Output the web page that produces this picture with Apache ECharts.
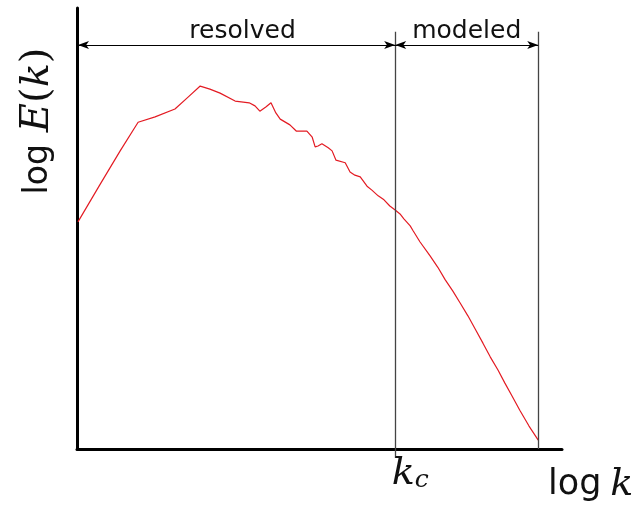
<!DOCTYPE html>
<html>
<head>
<meta charset="utf-8">
<title>Energy spectrum: resolved and modeled scales</title>
<script src="https://cdn.jsdelivr.net/npm/echarts@6/dist/echarts.min.js"></script>
<style>
  html, body { margin: 0; padding: 0; background: #ffffff; }
  #chart { width: 643px; height: 505px; }
</style>
</head>
<body>
<div id="chart"></div>
<script>
// Spectrum samples: log k (x) and log E(k) (y), arbitrary units
const logK = [
  0.02, 0.47, 0.89, 1.26, 1.61, 2.02, 2.29, 2.54, 2.74, 2.95,
  3.26, 3.55, 3.67, 3.77, 3.90, 4.00, 4.10, 4.19, 4.39, 4.52,
  4.74, 4.85, 4.91, 4.97, 5.05, 5.18, 5.26, 5.34, 5.53, 5.63,
  5.73, 5.84, 5.98, 6.08, 6.21, 6.33, 6.45, 6.56, 6.66, 6.74,
  6.87, 6.93, 7.07, 7.28, 7.44, 7.59, 7.75, 7.90, 8.06, 8.21,
  8.37, 8.52, 8.68, 8.82, 8.97, 9.13, 9.32, 9.51
];
const logE = [
  5.15, 5.99, 6.76, 7.41, 7.53, 7.71, 7.98, 8.23, 8.16, 8.07,
  7.89, 7.85, 7.78, 7.66, 7.76, 7.85, 7.62, 7.48, 7.35, 7.21,
  7.21, 7.07, 6.85, 6.87, 6.92, 6.83, 6.76, 6.55, 6.49, 6.28,
  6.21, 6.17, 5.96, 5.87, 5.74, 5.65, 5.51, 5.42, 5.33, 5.22,
  5.06, 4.95, 4.70, 4.38, 4.12, 3.84, 3.58, 3.31, 3.02, 2.72,
  2.40, 2.09, 1.79, 1.50, 1.20, 0.88, 0.52, 0.20
];

// Cutoff wavenumber and end of the modeled range (log k)
const kCut = 6.56;
const kMax = 9.51;
const kStart = 0.02;

// Heights of the range arrows and divider lines (log E units)
const arrowLevel = 9.16;
const dividerTop = 9.46;

// Range labels
const rangeNames = ['resolved', 'modeled'];

const points = logK.map((k, i) => [k, logE[i]]);

const chart = echarts.init(document.getElementById('chart'), null, { renderer: 'canvas' });

const arrowLabel = (text, padLeft) => ({
  show: true,
  position: 'middle',
  formatter: text,
  distance: 1,
  padding: [0, 0, 0, padLeft],
  color: '#111111',
  fontFamily: 'DejaVu Sans',
  fontSize: 25
});

const mathItalic = { fontFamily: 'DejaVu Serif', fontStyle: 'italic', fill: '#111111' };
const mathUpright = { fontFamily: 'DejaVu Serif', fill: '#111111' };

chart.setOption({
  animation: false,
  backgroundColor: '#ffffff',
  grid: { left: 77, top: 8, width: 485, height: 441, containLabel: false },
  xAxis: {
    type: 'value',
    min: 0,
    max: 10,
    splitLine: { show: false },
    axisLine: { show: true, onZero: false, lineStyle: { color: '#000000', width: 3 } },
    axisTick: {
      show: true,
      customValues: [kCut],
      length: 9,
      lineStyle: { color: '#444444', width: 1.3 }
    },
    axisLabel: {
      show: true,
      customValues: [kCut],
      margin: 6,
      align: 'center',
      padding: [0, 0, 0, 30],
      formatter: () => '{k|k}{c|c}',
      rich: {
        k: { fontFamily: 'DejaVu Serif', fontStyle: 'italic', fontSize: 38, color: '#111111', verticalAlign: 'bottom' },
        c: { fontFamily: 'DejaVu Serif', fontStyle: 'italic', fontSize: 25, color: '#111111', verticalAlign: 'bottom', padding: [12, 0, 0, 0] }
      }
    }
  },
  yAxis: {
    type: 'value',
    min: 0,
    max: 10,
    splitLine: { show: false },
    axisLine: { show: true, onZero: false, lineStyle: { color: '#000000', width: 3 } },
    axisTick: { show: false },
    axisLabel: { show: false }
  },
  graphic: [
    {
      type: 'text',
      x: 38,
      y: 121,
      rotation: Math.PI / 2,
      style: {
        text: '{a|log}{e|E}{p|(}{e|k}{p|)}',
        align: 'center',
        verticalAlign: 'middle',
        rich: {
          a: { fontFamily: 'DejaVu Sans', fontSize: 33, fill: '#111111', padding: [0, 12, 0, 0] },
          e: Object.assign({ fontSize: 40 }, mathItalic),
          p: Object.assign({ fontSize: 40 }, mathUpright)
        }
      }
    },
    {
      type: 'text',
      x: 548,
      y: 485,
      style: {
        text: '{a|log}{b|k}',
        align: 'left',
        verticalAlign: 'middle',
        rich: {
          a: { fontFamily: 'DejaVu Sans', fontSize: 35, fill: '#111111', padding: [0, 9, 0, 0] },
          b: Object.assign({ fontSize: 38 }, mathItalic)
        }
      }
    }
  ],
  series: [
    {
      type: 'line',
      data: points,
      showSymbol: false,
      symbol: 'none',
      lineStyle: { color: '#e31b23', width: 1.2 },
      markLine: {
        silent: true,
        symbol: ['none', 'none'],
        label: { show: false },
        lineStyle: { type: 'solid' },
        data: [
          [
            { coord: [kCut, 0], lineStyle: { color: '#444444', width: 1.3 } },
            { coord: [kCut, dividerTop] }
          ],
          [
            { coord: [kMax, 0], lineStyle: { color: '#444444', width: 1.3 } },
            { coord: [kMax, dividerTop] }
          ],
          [
            {
              coord: [kStart, arrowLevel],
              symbol: 'arrow',
              symbolSize: [6, 11],
              lineStyle: { color: '#000000', width: 1 },
              label: arrowLabel(rangeNames[0], 12)
            },
            { coord: [kCut, arrowLevel], symbol: 'arrow', symbolSize: [6, 11] }
          ],
          [
            {
              coord: [kCut, arrowLevel],
              symbol: 'arrow',
              symbolSize: [6, 11],
              lineStyle: { color: '#000000', width: 1 },
              label: arrowLabel(rangeNames[1], 0)
            },
            { coord: [kMax, arrowLevel], symbol: 'arrow', symbolSize: [6, 11] }
          ]
        ]
      }
    }
  ]
});
</script>
</body>
</html>
